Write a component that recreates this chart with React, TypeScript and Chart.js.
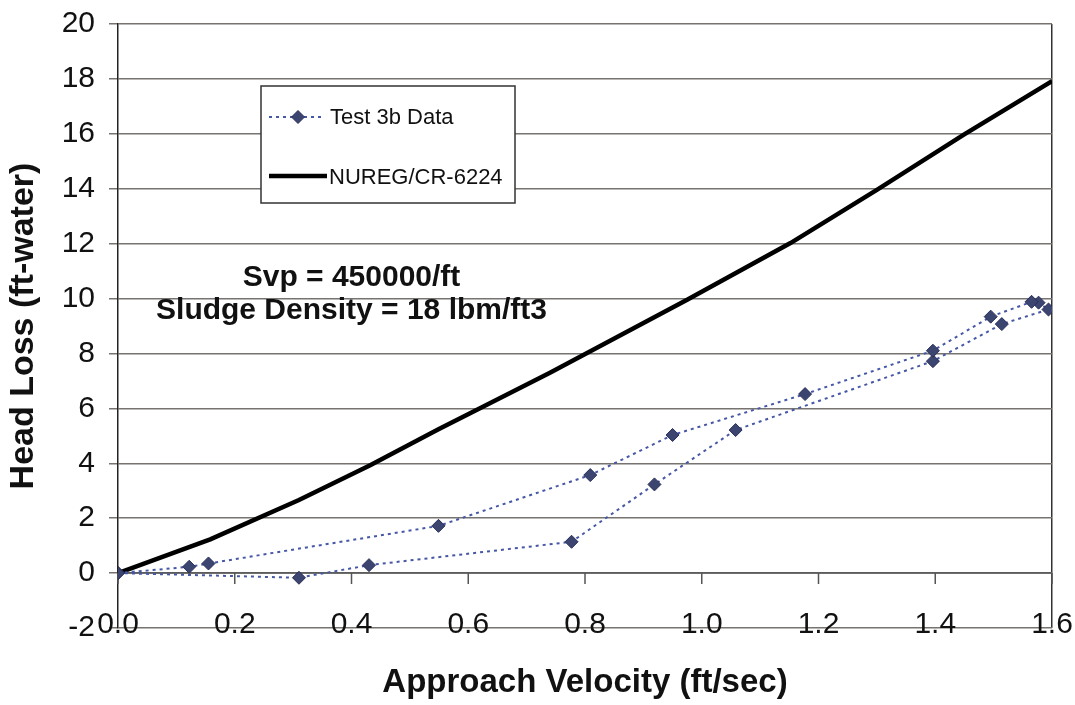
import React, { useEffect, useRef } from 'react';
import { Chart, registerables } from 'chart.js';

Chart.register(...registerables);

// Test 3b data, in test order (velocity up, then back down)
const testVelocity = [0, 0.31, 0.43, 0.777, 0.919, 1.058, 1.396, 1.514, 1.594, 1.577, 1.565, 1.495, 1.396, 1.177, 0.95, 0.809, 0.549, 0.155, 0.122, 0];
const testHeadLoss = [0, -0.17, 0.29, 1.14, 3.23, 5.21, 7.72, 9.07, 9.6, 9.85, 9.88, 9.34, 8.1, 6.52, 5.03, 3.57, 1.72, 0.35, 0.23, 0];

// NUREG/CR-6224 correlation curve
const nuregVelocity = [0, 0.158, 0.31, 0.432, 0.549, 0.615, 0.74, 0.975, 1.152, 1.3, 1.449, 1.6];
const nuregHeadLoss = [0, 1.23, 2.66, 3.93, 5.24, 5.95, 7.3, 9.96, 12.02, 13.96, 15.97, 17.92];

const xTickValues = [0, 0.2, 0.4, 0.6, 0.8, 1.0, 1.2, 1.4, 1.6];
const yTickValues = [-2, 0, 2, 4, 6, 8, 10, 12, 14, 16, 18, 20];

const seriesLabels = ['Test 3b Data', 'NUREG/CR-6224'];
const annotationLines = ['Svp = 450000/ft', 'Sludge Density = 18 lbm/ft3'];

const FONT = "'Liberation Sans', Arial, Helvetica, sans-serif";
const DATA_LINE = '#4657a6';
const MARKER_FILL = '#3c4470';
const MARKER_EDGE = '#2a3057';
const GRID = '#777370';

function drawDiamond(ctx: CanvasRenderingContext2D, cx: number, cy: number, r: number) {
  ctx.beginPath();
  ctx.moveTo(cx, cy - r);
  ctx.lineTo(cx + r, cy);
  ctx.lineTo(cx, cy + r);
  ctx.lineTo(cx - r, cy);
  ctx.closePath();
  ctx.fillStyle = MARKER_FILL;
  ctx.fill();
  ctx.strokeStyle = MARKER_EDGE;
  ctx.lineWidth = 1;
  ctx.stroke();
}

const overlayPlugin = {
  id: 'overlay',
  beforeDraw(chart: any) {
    const { ctx, width, height } = chart;
    ctx.save();
    ctx.fillStyle = '#ffffff';
    ctx.fillRect(0, 0, width, height);
    ctx.restore();
  },
  beforeDatasetsDraw(chart: any) {
    const { ctx } = chart;
    const xs = chart.scales.x;
    const ys = chart.scales.y;
    const y0 = ys.getPixelForValue(0);
    ctx.save();
    ctx.strokeStyle = '#555';
    ctx.lineWidth = 1.5;
    ctx.beginPath();
    ctx.moveTo(xs.left, y0);
    ctx.lineTo(xs.right, y0);
    xTickValues.forEach((v) => {
      const px = xs.getPixelForValue(v);
      ctx.moveTo(px, y0);
      ctx.lineTo(px, y0 + 11);
    });
    ctx.stroke();
    ctx.restore();
  },
  afterDraw(chart: any) {
    const { ctx, chartArea } = chart;
    const xs = chart.scales.x;
    const ys = chart.scales.y;
    ctx.save();

    // Legend box
    const bx = chartArea.left + 143;
    const by = chartArea.top + 62;
    const bw = 254;
    const bh = 117;
    ctx.fillStyle = '#ffffff';
    ctx.fillRect(bx, by, bw, bh);
    ctx.strokeStyle = '#333';
    ctx.lineWidth = 1.5;
    ctx.strokeRect(bx, by, bw, bh);

    const ly1 = by + 31;
    const ly2 = by + 90;
    const lx0 = bx + 8;
    const lx1 = bx + 62;
    // item 1: dotted line with diamond
    ctx.strokeStyle = DATA_LINE;
    ctx.lineWidth = 2;
    ctx.setLineDash([3, 4]);
    ctx.beginPath();
    ctx.moveTo(lx0, ly1);
    ctx.lineTo(lx1, ly1);
    ctx.stroke();
    ctx.setLineDash([]);
    drawDiamond(ctx, (lx0 + lx1) / 2 + 2, ly1, 6.5);
    // item 2: thick black line
    ctx.strokeStyle = '#000';
    ctx.lineWidth = 4.5;
    ctx.beginPath();
    ctx.moveTo(lx0, ly2);
    ctx.lineTo(lx1 + 4, ly2);
    ctx.stroke();

    ctx.fillStyle = '#111';
    ctx.font = `22px ${FONT}`;
    ctx.textAlign = 'left';
    ctx.textBaseline = 'middle';
    ctx.fillText(seriesLabels[0], bx + 69, ly1 + 1);
    ctx.fillText(seriesLabels[1], bx + 68, ly2 + 2);

    // Annotation
    ctx.font = `bold 30px ${FONT}`;
    ctx.textAlign = 'center';
    ctx.textBaseline = 'alphabetic';
    ctx.fillStyle = '#111';
    const ax = xs.getPixelForValue(0.4);
    ctx.fillText(annotationLines[0], ax, ys.getPixelForValue(10.45));
    ctx.fillText(annotationLines[1], ax, ys.getPixelForValue(9.25));
    ctx.restore();
  },
};

export default function App() {
  const canvasRef = useRef<HTMLCanvasElement>(null);

  useEffect(() => {
    document.body.style.margin = '0';
    const canvas = canvasRef.current;
    if (!canvas) return;

    const chart = new Chart(canvas, {
      type: 'scatter',
      data: {
        datasets: [
          {
            label: seriesLabels[0],
            data: testVelocity.map((v, i) => ({ x: v, y: testHeadLoss[i] })),
            showLine: true,
            borderColor: DATA_LINE,
            borderWidth: 2,
            borderDash: [3, 4],
            pointStyle: 'rectRot',
            pointRadius: 6.5,
            pointBackgroundColor: MARKER_FILL,
            pointBorderColor: MARKER_EDGE,
            pointBorderWidth: 1,
            order: 0,
          },
          {
            label: seriesLabels[1],
            data: nuregVelocity.map((v, i) => ({ x: v, y: nuregHeadLoss[i] })),
            showLine: true,
            borderColor: '#000000',
            borderWidth: 4.5,
            pointRadius: 0,
            tension: 0,
            order: 1,
          },
        ],
      },
      options: {
        responsive: false,
        animation: false,
        layout: { padding: { left: 0, right: 23, top: 24, bottom: 0 } },
        plugins: {
          legend: { display: false },
          tooltip: { enabled: false },
        },
        scales: {
          x: {
            type: 'linear',
            min: 0,
            max: 1.6,
            afterBuildTicks: (scale: any) => {
              scale.ticks = xTickValues.map((v) => ({ value: v }));
            },
            afterFit: (scale: any) => {
              scale.height = 77;
            },
            ticks: {
              callback: (v: any) => Number(v).toFixed(1),
              font: { family: FONT, size: 30 },
              color: '#111',
              mirror: true,
              padding: -15,
              maxRotation: 0,
              autoSkip: false,
            },
            grid: {
              drawTicks: false,
              lineWidth: 1.5,
              color: (c: any) => (c.tick && Math.abs(c.tick.value - 1.6) < 1e-6 ? '#333' : 'rgba(0,0,0,0)'),
            },
            border: { display: false },
            title: {
              display: true,
              text: 'Approach Velocity (ft/sec)',
              font: { family: FONT, size: 33, weight: 'bold' },
              color: '#111',
              padding: { top: 0, bottom: 2 },
            },
          },
          y: {
            type: 'linear',
            min: -2,
            max: 20,
            afterBuildTicks: (scale: any) => {
              scale.ticks = yTickValues.map((v) => ({ value: v }));
            },
            afterFit: (scale: any) => {
              scale.width = 118;
              scale.paddingTop = 0;
              scale.paddingBottom = 0;
            },
            ticks: {
              font: { family: FONT, size: 30 },
              color: '#111',
              padding: 14,
              autoSkip: false,
            },
            grid: {
              color: GRID,
              lineWidth: 1.5,
              tickLength: 9,
            },
            border: { display: true, color: '#222', width: 1.5 },
            title: {
              display: true,
              text: 'Head Loss (ft-water)',
              font: { family: FONT, size: 34, weight: 'bold' },
              color: '#111',
              padding: { top: 3, bottom: 0 },
            },
          },
        },
      },
      plugins: [overlayPlugin],
    } as any);

    return () => {
      chart.destroy();
    };
  }, []);

  return (
    <div style={{ position: 'fixed', left: 0, top: 0, width: 1075, height: 705, background: '#fff' }}>
      <canvas ref={canvasRef} width={1075} height={705} style={{ width: 1075, height: 705, display: 'block' }} />
    </div>
  );
}
